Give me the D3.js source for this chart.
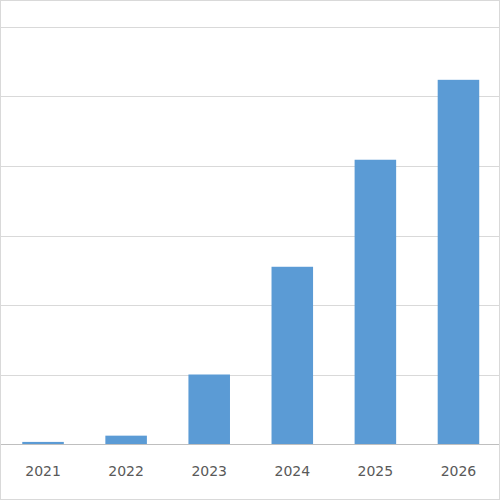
<!DOCTYPE html>
<html>
<head>
<meta charset="utf-8">
<script src="https://cdn.jsdelivr.net/npm/d3@7"></script>
<style>
  body { margin: 0; background: #fff; }
</style>
</head>
<body>
<script>
var years = ["2021", "2022", "2023", "2024", "2025", "2026"];
var values = [0.03, 0.12, 1.0, 2.55, 4.09, 5.24];
var gridTicks = [0, 1, 2, 3, 4, 5, 6];

var width = 500, height = 500;
var svg = d3.select("body").append("svg").attr("width", width).attr("height", height);

svg.append("rect").attr("x", 0.5).attr("y", 0.5).attr("width", width - 1).attr("height", height - 1)
   .attr("fill", "#fff").attr("stroke", "#d9d9d9");

var x = d3.scaleBand().domain(years).range([1.5, 500]).paddingInner(0.5).paddingOuter(0.25);
var y = d3.scaleLinear().domain([0, 6]).range([444, 27]);

svg.selectAll(".grid").data(gridTicks.slice(1)).enter().append("line")
   .attr("x1", 1).attr("x2", 499)
   .attr("y1", d => Math.round(y(d)) + 0.5).attr("y2", d => Math.round(y(d)) + 0.5)
   .attr("stroke", "#d9d9d9");

svg.selectAll(".bar").data(values).enter().append("rect")
   .attr("x", (d, i) => x(years[i]))
   .attr("width", x.bandwidth())
   .attr("y", d => y(d))
   .attr("height", d => y(0) - y(d))
   .attr("fill", "#5b9bd5");

svg.append("line").attr("x1", 1).attr("x2", 499).attr("y1", 444.5).attr("y2", 444.5).attr("stroke", "#bfbfbf");

svg.selectAll(".lab").data(years).enter().append("text")
   .attr("x", d => x(d) + x.bandwidth() / 2)
   .attr("y", 476)
   .attr("text-anchor", "middle")
   .attr("font-family", "'DejaVu Sans', sans-serif")
   .attr("font-size", "14px")
   .attr("fill", "#595959")
   .text(d => d);
</script>
</body>
</html>
